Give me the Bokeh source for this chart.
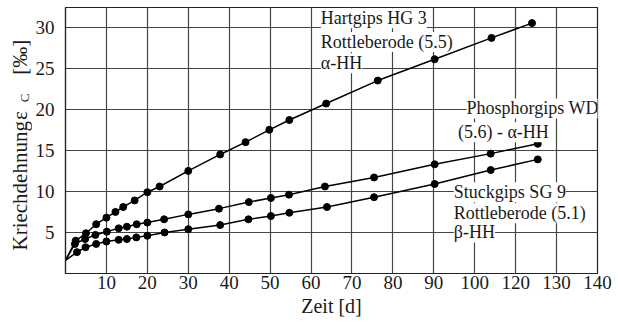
import math
from bokeh.plotting import figure
from bokeh.layouts import row
from bokeh.models import FixedTicker, Label
from bokeh.embed import file_html
from bokeh.resources import INLINE

# Creep strain of three gypsum binders over time
# (x positions are grid positions; axis labels as printed: ... 90, 100, 120, 130, 140)
start_x = [0.0]
start_y = [1.6]

hart_x = [2.5, 5.0, 7.5, 10.0, 12.2, 14.1, 16.9, 20.0, 23.0, 30.0, 37.8, 44.0, 49.8, 54.7, 63.7, 76.3, 90.2, 104.1, 114.0]
hart_y = [4.0, 4.9, 6.0, 6.8, 7.5, 8.1, 8.9, 9.9, 10.6, 12.5, 14.5, 16.0, 17.5, 18.7, 20.7, 23.5, 26.1, 28.7, 30.5]

phos_x = [2.3, 4.8, 7.3, 10.1, 13.0, 15.0, 17.4, 20.0, 24.1, 30.0, 37.5, 44.8, 50.2, 54.6, 63.4, 75.4, 90.2, 103.9, 115.4]
phos_y = [3.6, 4.2, 4.7, 5.1, 5.5, 5.7, 6.0, 6.2, 6.6, 7.2, 7.9, 8.7, 9.2, 9.6, 10.6, 11.7, 13.3, 14.6, 15.8]

stuck_x = [2.8, 4.9, 7.5, 10.0, 13.0, 15.0, 17.3, 20.0, 24.2, 30.0, 37.8, 44.7, 50.2, 54.7, 63.9, 75.4, 90.2, 103.9, 115.4]
stuck_y = [2.6, 3.2, 3.6, 3.9, 4.1, 4.2, 4.4, 4.6, 5.0, 5.4, 5.9, 6.6, 7.0, 7.4, 8.1, 9.3, 10.9, 12.6, 13.9]

x_ticks = [10, 20, 30, 40, 50, 60, 70, 80, 90, 100, 110, 120, 130]
x_tick_labels = ["10", "20", "30", "40", "50", "60", "70", "80", "90", "100", "120", "130", "140"]
y_ticks = [5, 10, 15, 20, 25, 30]

FONT = "Liberation Serif"
INK = "#1a1a1a"
TOP, BOTTOM = 7, 49

p = figure(width=618 - 32, height=322, output_backend="svg", toolbar_location=None,
           x_range=(0, 130), y_range=(0, 32.4),
           min_border_left=32, min_border_right=21, min_border_top=TOP, min_border_bottom=BOTTOM)

# narrow strip on the left holding the rotated y-axis title (with subscript);
# it shares the value range so the title parts sit at value heights
TITLE_W = 32
title_fig = figure(width=TITLE_W, height=322, output_backend="svg", toolbar_location=None,
                   x_range=(0, TITLE_W), y_range=p.y_range,
                   x_axis_location=None, y_axis_location=None,
                   min_border=0, min_border_left=0, min_border_right=0,
                   min_border_top=TOP, min_border_bottom=BOTTOM)
title_fig.grid.visible = False
title_fig.outline_line_color = None
title_fig.background_fill_color = "white"
title_fig.border_fill_color = "white"
rot = math.pi / 2

def title_part(text, x, y, size, align):
    title_fig.add_layout(Label(x=x, y=y, text=text, angle=rot, text_font=FONT,
                               text_font_size=size, text_color=INK,
                               text_align=align, text_baseline="middle"))

title_part("Kriechdehnung", 19, 2.8, "21px", "left")
title_part("ε", 19, 18.7, "21px", "left")
title_part("C", 24, 21.4, "13px", "center")
title_part("[‰]", 19, 24.2, "21px", "left")

p.background_fill_color = "white"
p.border_fill_color = "white"
p.outline_line_color = "#222222"
p.outline_line_width = 1.2

p.xaxis.ticker = FixedTicker(ticks=x_ticks)
p.xaxis.major_label_overrides = {t: s for t, s in zip(x_ticks, x_tick_labels)}
p.yaxis.ticker = FixedTicker(ticks=y_ticks)
p.xgrid.ticker = FixedTicker(ticks=x_ticks[:-1])
p.ygrid.ticker = FixedTicker(ticks=y_ticks)
for g in (p.xgrid, p.ygrid):
    g.grid_line_color = "#444444"
    g.grid_line_width = 1.2
    g.grid_line_alpha = 1.0

for ax in (p.xaxis, p.yaxis):
    ax.major_tick_out = 0
    ax.major_tick_in = 0
    ax.minor_tick_out = 0
    ax.minor_tick_in = 0
    ax.axis_line_color = "#222222"
    ax.axis_line_width = 1.2
    ax.major_label_text_font = FONT
    ax.major_label_text_font_size = "19px"
    ax.major_label_text_color = INK
p.xaxis.major_label_standoff = 2
p.yaxis.major_label_standoff = 11
p.xaxis.axis_label = "Zeit [d]"
p.xaxis.axis_label_text_font = FONT
p.xaxis.axis_label_text_font_size = "20px"
p.xaxis.axis_label_text_font_style = "normal"
p.xaxis.axis_label_text_color = INK
p.xaxis.axis_label_standoff = 3

# curves with measured points
for xs, ys in ((hart_x, hart_y), (phos_x, phos_y), (stuck_x, stuck_y)):
    p.line(start_x + xs, start_y + ys, line_color="black", line_width=1.5)
    p.scatter(xs, ys, size=7, marker="circle", fill_color="black", line_color="black")

def note(text, x, y):
    p.add_layout(Label(x=x, y=y, text=text, text_font=FONT, text_font_size="18px",
                       text_color=INK, text_align="left", text_baseline="middle",
                       background_fill_color="white", background_fill_alpha=1.0))

note("Hartgips HG 3", 62.4, 31.1)
note("Rottleberode (5.5)", 62.4, 28.2)
note("α-HH", 62.4, 25.6)
note("Phosphorgips WD", 98.0, 20.1)
note("(5.6) - α-HH", 95.9, 17.2)
note("Stuckgips SG 9", 94.9, 9.9)
note("Rottleberode (5.1)", 94.9, 7.35)
note("β-HH", 94.9, 5.0)

layout = row(title_fig, p, spacing=0)
open("out.html", "w").write(file_html(layout, INLINE))
